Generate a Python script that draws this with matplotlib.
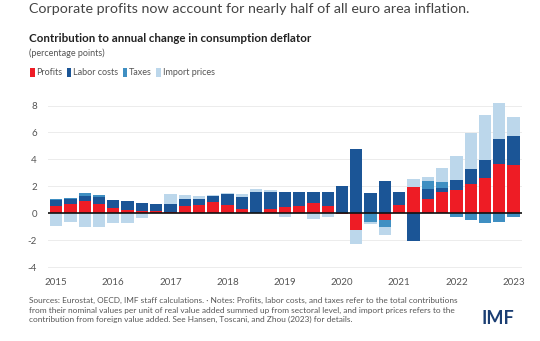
import matplotlib
matplotlib.use("Agg")
import matplotlib.pyplot as plt
import numpy as np
from matplotlib.patches import Rectangle

plt.rcParams['font.family'] = ['Lato', 'DejaVu Sans']

quarters = ["2015Q1","2015Q2","2015Q3","2015Q4","2016Q1","2016Q2","2016Q3","2016Q4",
            "2017Q1","2017Q2","2017Q3","2017Q4","2018Q1","2018Q2","2018Q3","2018Q4",
            "2019Q1","2019Q2","2019Q3","2019Q4","2020Q1","2020Q2","2020Q3","2020Q4",
            "2021Q1","2021Q2","2021Q3","2021Q4","2022Q1","2022Q2","2022Q3","2022Q4",
            "2023Q1"]
profits = [0.57, 0.67, 0.90, 0.69, 0.37, 0.25, 0.17, 0.15,
           0.08, 0.52, 0.60, 0.80, 0.60, 0.30, 0.03, 0.30,
           0.44, 0.50, 0.74, 0.57, -0.05, -1.28, 0.00, -0.47,
           0.64, 1.95, 1.03, 1.55, 1.70, 2.19, 2.59, 3.67,
           3.55]
labor = [0.40, 0.40, 0.40, 0.51, 0.61, 0.64, 0.62, 0.56,
         0.64, 0.50, 0.42, 0.50, 0.82, 0.90, 1.55, 1.25,
         1.10, 1.06, 0.86, 1.03, 2.00, 4.75, 1.49, 2.36,
         0.94, -2.05, 0.80, 0.35, 0.80, 1.09, 1.33, 1.87,
         2.16]
taxes = [0.08, 0.08, 0.18, 0.18, 0.0, 0.0, 0.0, 0.0,
         0.0, 0.0, 0.0, 0.0, 0.0, 0.0, 0.0, 0.0,
         0.0, 0.0, 0.0, 0.0, 0.0, 0.0, -0.62, -0.57,
         0.0, 0.0, 0.60, 0.40, -0.26, -0.54, -0.69, -0.62,
         -0.30]
imports = [-0.95, -0.66, -1.06, -1.00, -0.69, -0.69, -0.37, 0.0,
           0.70, 0.32, 0.26, 0.06, 0.05, 0.22, 0.22, 0.17,
           -0.25, -0.05, -0.40, -0.30, 0.0, -0.98, -0.19, -0.55,
           0.0, 0.59, 0.25, 1.04, 1.78, 2.71, 3.35, 2.66,
           1.43]
series_names = ["Profits", "Labor costs", "Taxes", "Import prices"]
colors = ["#EE1C25", "#1B5596", "#3F8FC2", "#BCD7EB"]
year_labels = ["2015","2016","2017","2018","2019","2020","2021","2022","2023"]
yticks = [-4, -2, 0, 2, 4, 6, 8]

fig = plt.figure(figsize=(5.4, 3.41), dpi=100)
ax = fig.add_axes([0.089, 0.205, 0.878, 0.525])

x = np.arange(len(quarters))
data = [profits, labor, taxes, imports]
pos_base = np.zeros(len(x))
neg_base = np.zeros(len(x))
for vals, col, name in zip(data, colors, series_names):
    v = np.array(vals)
    p = np.where(v > 0, v, 0)
    n = np.where(v < 0, v, 0)
    ax.bar(x, p, bottom=pos_base, width=0.86, color=col, label=name, zorder=3, linewidth=0)
    ax.bar(x, n, bottom=neg_base, width=0.86, color=col, zorder=3, linewidth=0)
    pos_base += p
    neg_base += n

ax.axhline(0, color="#111111", linewidth=1.2, zorder=4)
ax.set_ylim(-4.3, 9.0)
ax.set_xlim(-0.56, len(x) - 0.4)
ax.set_yticks(yticks)
ax.set_yticklabels([str(t) for t in yticks])
ax.set_xticks(np.arange(0, len(x), 4))
ax.set_xticklabels(year_labels)
ax.yaxis.grid(True, color="#ececec", linewidth=0.7, zorder=0)
for s in ax.spines.values():
    s.set_visible(False)
ax.tick_params(axis="both", length=0, labelsize=7, colors="#555555")
ax.tick_params(axis="y", pad=8)
ax.tick_params(axis="x", pad=5)

fig.text(0.054, 0.992, "Corporate profits now account for nearly half of all euro area inflation.",
         fontsize=10.3, color="#444444", va="top", ha="left")
fig.text(0.054, 0.902, "Contribution to annual change in consumption deflator",
         fontsize=8.3, fontweight="bold", color="#222222", va="top", ha="left")
fig.text(0.054, 0.857, "(percentage points)", fontsize=6.5, color="#555555", va="top", ha="left")

# legend
lx = 0.055
ly = 0.786
for name, col in zip(series_names, colors):
    fig.patches.append(Rectangle((lx, ly - 0.013), 0.009, 0.027, transform=fig.transFigure,
                                 facecolor=col, edgecolor="none"))
    t = fig.text(lx + 0.012, ly, name, fontsize=6.5, color="#555555", va="center", ha="left")
    fig.canvas.draw()
    bb = t.get_window_extent()
    lx = (bb.x1 / fig.bbox.width) + 0.008

note = ("Sources: Eurostat, OECD, IMF staff calculations. \u00b7 Notes: Profits, labor costs, and taxes refer to the total contributions\n"
        "from their nominal values per unit of real value added summed up from sectoral level, and import prices refers to the\n"
        "contribution from foreign value added. See Hansen, Toscani, and Zhou (2023) for details.")
fig.text(0.054, 0.128, note, fontsize=5.95, color="#555555", va="top", ha="left", linespacing=1.35)
fig.text(0.952, 0.065, "IMF", fontsize=13, fontweight="bold", color="#1B3E73", va="center", ha="right")

fig.savefig("out.png", dpi=100, facecolor="white")
